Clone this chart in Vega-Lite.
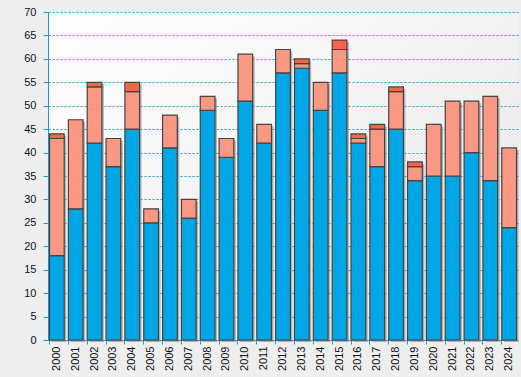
{
  "$schema": "https://vega.github.io/schema/vega-lite/v6.json",
  "width": 521,
  "height": 377,
  "autosize": {"type": "fit", "contains": "padding"},
  "padding": {"left": 23, "top": 6, "right": 2, "bottom": 6},
  "background": "#eeeeee",
  "config": {
    "view": {"stroke": null, "fill": {"gradient": "linear", "x1": 0, "y1": 0, "x2": 1, "y2": 1, "stops": [{"offset": 0, "color": "#ffffff"}, {"offset": 1, "color": "#e6e6e6"}]}},
    "font": "Liberation Sans"
  },
  "data": {"values": [
    {"year": "2000", "s": "a", "o": 1, "v": 18}, {"year": "2000", "s": "b", "o": 2, "v": 25}, {"year": "2000", "s": "c", "o": 3, "v": 1},
    {"year": "2001", "s": "a", "o": 1, "v": 28}, {"year": "2001", "s": "b", "o": 2, "v": 19},
    {"year": "2002", "s": "a", "o": 1, "v": 42}, {"year": "2002", "s": "b", "o": 2, "v": 12}, {"year": "2002", "s": "c", "o": 3, "v": 1},
    {"year": "2003", "s": "a", "o": 1, "v": 37}, {"year": "2003", "s": "b", "o": 2, "v": 6},
    {"year": "2004", "s": "a", "o": 1, "v": 45}, {"year": "2004", "s": "b", "o": 2, "v": 8}, {"year": "2004", "s": "c", "o": 3, "v": 2},
    {"year": "2005", "s": "a", "o": 1, "v": 25}, {"year": "2005", "s": "b", "o": 2, "v": 3},
    {"year": "2006", "s": "a", "o": 1, "v": 41}, {"year": "2006", "s": "b", "o": 2, "v": 7},
    {"year": "2007", "s": "a", "o": 1, "v": 26}, {"year": "2007", "s": "b", "o": 2, "v": 4},
    {"year": "2008", "s": "a", "o": 1, "v": 49}, {"year": "2008", "s": "b", "o": 2, "v": 3},
    {"year": "2009", "s": "a", "o": 1, "v": 39}, {"year": "2009", "s": "b", "o": 2, "v": 4},
    {"year": "2010", "s": "a", "o": 1, "v": 51}, {"year": "2010", "s": "b", "o": 2, "v": 10},
    {"year": "2011", "s": "a", "o": 1, "v": 42}, {"year": "2011", "s": "b", "o": 2, "v": 4},
    {"year": "2012", "s": "a", "o": 1, "v": 57}, {"year": "2012", "s": "b", "o": 2, "v": 5},
    {"year": "2013", "s": "a", "o": 1, "v": 58}, {"year": "2013", "s": "b", "o": 2, "v": 1}, {"year": "2013", "s": "c", "o": 3, "v": 1},
    {"year": "2014", "s": "a", "o": 1, "v": 49}, {"year": "2014", "s": "b", "o": 2, "v": 6},
    {"year": "2015", "s": "a", "o": 1, "v": 57}, {"year": "2015", "s": "b", "o": 2, "v": 5}, {"year": "2015", "s": "c", "o": 3, "v": 2},
    {"year": "2016", "s": "a", "o": 1, "v": 42}, {"year": "2016", "s": "b", "o": 2, "v": 1}, {"year": "2016", "s": "c", "o": 3, "v": 1},
    {"year": "2017", "s": "a", "o": 1, "v": 37}, {"year": "2017", "s": "b", "o": 2, "v": 8}, {"year": "2017", "s": "c", "o": 3, "v": 1},
    {"year": "2018", "s": "a", "o": 1, "v": 45}, {"year": "2018", "s": "b", "o": 2, "v": 8}, {"year": "2018", "s": "c", "o": 3, "v": 1},
    {"year": "2019", "s": "a", "o": 1, "v": 34}, {"year": "2019", "s": "b", "o": 2, "v": 3}, {"year": "2019", "s": "c", "o": 3, "v": 1},
    {"year": "2020", "s": "a", "o": 1, "v": 35}, {"year": "2020", "s": "b", "o": 2, "v": 11},
    {"year": "2021", "s": "a", "o": 1, "v": 35}, {"year": "2021", "s": "b", "o": 2, "v": 16},
    {"year": "2022", "s": "a", "o": 1, "v": 40}, {"year": "2022", "s": "b", "o": 2, "v": 11},
    {"year": "2023", "s": "a", "o": 1, "v": 34}, {"year": "2023", "s": "b", "o": 2, "v": 18},
    {"year": "2024", "s": "a", "o": 1, "v": 24}, {"year": "2024", "s": "b", "o": 2, "v": 17}
  ]},
  "encoding": {
    "x": {"field": "year", "type": "ordinal", "title": null,
      "scale": {"paddingInner": 0.22, "paddingOuter": 0.08},
      "axis": {"labelAngle": -90, "labelAlign": "right", "labelBaseline": "middle", "labelFontSize": 11, "labelColor": "#111111", "domainColor": "#1a9ad6", "tickColor": "#1a9ad6", "tickSize": 4, "labelPadding": 2, "bandPosition": 0}},
    "y": {"field": "v", "type": "quantitative", "stack": "zero", "title": null,
      "scale": {"domain": [0, 70], "nice": false},
      "axis": {"values": [0,5,10,15,20,25,30,35,40,45,50,55,60,65,70], "labelFontSize": 11, "labelColor": "#111111", "domainColor": "#1a9ad6", "tickColor": "#1a9ad6", "tickSize": 5, "gridColor": "#1a9ad6", "gridDash": [2, 2], "gridOpacity": 1, "labelPadding": 7}},
    "order": {"field": "o", "type": "quantitative"}
  },
  "layer": [
    {"mark": {"type": "bar", "color": "#888888", "opacity": 0.6, "xOffset": 2, "yOffset": 2}},
    {"mark": {"type": "bar", "stroke": "#444444", "strokeWidth": 1.2},
     "encoding": {
       "color": {"field": "s", "type": "nominal", "legend": null,
         "scale": {"domain": ["a", "b", "c"], "range": ["#00a6e6", "#fa9884", "#ff6347"]}}
     }}
  ]
}
